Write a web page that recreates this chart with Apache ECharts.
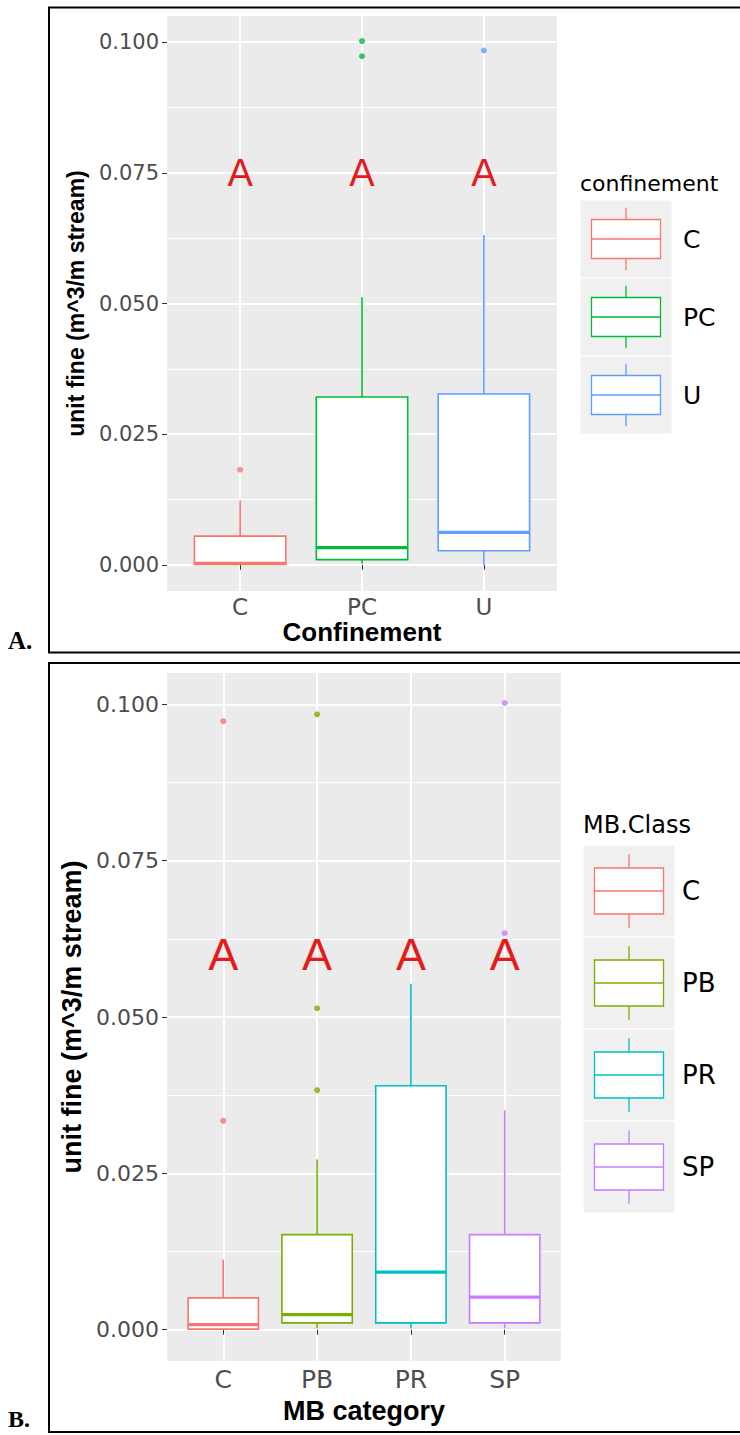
<!DOCTYPE html>
<html><head><meta charset="utf-8">
<script src="https://cdn.jsdelivr.net/npm/echarts@6/dist/echarts.min.js"></script>
<style>html,body{margin:0;padding:0;background:#fff}#c{width:740px;height:1435px}</style>
</head><body><div id="c"></div>
<script>
// ---------- Panel A data ----------
const catsA = ['C', 'PC', 'U'];
const colorsA = ['#F8766D', '#00BA38', '#619CFF'];
// [lower whisker, Q1, median, Q3, upper whisker]
const statsA = [
  [0.0000, 0.0001, 0.0003, 0.0055, 0.0123],
  [0.0002, 0.0010, 0.0033, 0.0321, 0.0512],
  [0.0000, 0.0027, 0.0062, 0.0327, 0.0631]
];
const outliersA = [[0.0182], [0.1002, 0.0973], [0.0984]];
const lettersA = ['A', 'A', 'A'];
const letterYA = 0.075;
const legendTitleA = 'confinement';
const xTitleA = 'Confinement';

// ---------- Panel B data ----------
const catsB = ['C', 'PB', 'PR', 'SP'];
const colorsB = ['#F8766D', '#7CAE00', '#00BFC4', '#C77CFF'];
const statsB = [
  [0.0000, 0.0001, 0.0008, 0.0051, 0.0112],
  [0.0002, 0.0011, 0.0024, 0.0152, 0.0272],
  [0.0002, 0.0011, 0.0092, 0.0390, 0.0553],
  [0.0002, 0.0011, 0.0052, 0.0152, 0.0351]
];
const outliersB = [[0.0973, 0.0334], [0.0984, 0.0514, 0.0383], [], [0.1002, 0.0634]];
const lettersB = ['A', 'A', 'A', 'A'];
const letterYB = 0.06;
const legendTitleB = 'MB.Class';
const xTitleB = 'MB category';

// ---------- shared ----------
const yTicks = [0, 0.025, 0.05, 0.075, 0.1];
const yTitle = 'unit fine (m^3/m stream)';

const SANS = '"DejaVu Sans", sans-serif';
const ARIAL = '"Liberation Sans", Arial, sans-serif';

const G = {
  A: { left: 167, top: 16, width: 390, height: 575 },
  B: { left: 167, top: 673, width: 394, height: 688 }
};

function xAxisCfg(gi, cats, P) {
  const pos = cats.map((c, i) => i + 1);
  return {
    type: 'value', gridIndex: gi, min: 0.4, max: cats.length + 0.6,
    minInterval: 1, maxInterval: 1,
    axisLine: { show: false },
    axisTick: { show: true, length: 5, customValues: pos, lineStyle: { color: '#333', width: 1 } },
    axisLabel: { customValues: pos, formatter: v => cats[Math.round(v) - 1] || '', color: '#4D4D4D',
      fontFamily: SANS, fontSize: P.xls, margin: P.xlm },
    splitLine: { show: true, showMinLine: true, showMaxLine: true, lineStyle: { color: '#fff', width: 2 } },
    name: P.xt, nameLocation: 'middle', nameGap: P.xng,
    nameTextStyle: { fontFamily: ARIAL, fontWeight: 'bold', fontSize: P.xts, color: '#000' }
  };
}
function yAxisCfg(gi, P) {
  return {
    type: 'value', gridIndex: gi, min: -0.005, max: 0.105,
    minInterval: 0.025, maxInterval: 0.025,
    axisLine: { show: false },
    axisTick: { show: true, length: 5, customValues: yTicks, lineStyle: { color: '#333', width: 1 } },
    axisLabel: { customValues: yTicks, formatter: v => v.toFixed(3), color: '#4D4D4D',
      fontFamily: SANS, fontSize: P.yls, margin: 8 },
    splitLine: { show: true, showMinLine: true, showMaxLine: true, lineStyle: { color: '#fff', width: 2 } },
    minorTick: { show: false, splitNumber: 2 },
    minorSplitLine: { show: true, lineStyle: { color: '#fff', width: 1 } },
    name: yTitle, nameLocation: 'middle', nameGap: P.yng,
    nameTextStyle: { fontFamily: ARIAL, fontWeight: 'bold', fontSize: P.yts, color: '#000' }
  };
}
function boxSeries(ai, stats, colors) {
  return {
    type: 'custom', xAxisIndex: ai, yAxisIndex: ai, z: 3,
    data: stats.map((s, i) => [i + 1].concat(s)),
    encode: { x: 0, y: [1, 2, 3, 4, 5] },
    renderItem: (params, api) => {
      const x = api.value(0);
      const lo = api.coord([x, api.value(1)]);
      const q1 = api.coord([x, api.value(2)]);
      const md = api.coord([x, api.value(3)]);
      const q3 = api.coord([x, api.value(4)]);
      const hi = api.coord([x, api.value(5)]);
      const hw = api.size([0.75, 0])[0] / 2;
      const c = colors[params.dataIndex];
      const cx = lo[0];
      return { type: 'group', children: [
        { type: 'line', shape: { x1: cx, y1: q3[1], x2: cx, y2: hi[1] }, style: { stroke: c, lineWidth: 1.6 } },
        { type: 'line', shape: { x1: cx, y1: q1[1], x2: cx, y2: lo[1] }, style: { stroke: c, lineWidth: 1.6 } },
        { type: 'rect', shape: { x: cx - hw, y: q3[1], width: 2 * hw, height: q1[1] - q3[1] }, style: { fill: '#fff', stroke: c, lineWidth: 1.6 } },
        { type: 'line', shape: { x1: cx - hw, y1: md[1], x2: cx + hw, y2: md[1] }, style: { stroke: c, lineWidth: 3.2 } }
      ] };
    }
  };
}
function outlierSeries(ai, outs, colors, size) {
  const data = [];
  outs.forEach((arr, i) => arr.forEach(v => data.push({ value: [i + 1, v], itemStyle: { color: colors[i] } })));
  return { type: 'scatter', xAxisIndex: ai, yAxisIndex: ai, z: 4, symbolSize: size, data: data };
}
function letterSeries(ai, letters, yv, fs) {
  return {
    type: 'custom', xAxisIndex: ai, yAxisIndex: ai, z: 5,
    data: letters.map((t, i) => [i + 1, yv]),
    renderItem: (params, api) => {
      const p = api.coord([api.value(0), api.value(1)]);
      return { type: 'text', x: p[0], y: p[1], style: { text: letters[params.dataIndex], fill: '#E41A1C',
        fontFamily: ARIAL, fontSize: fs, align: 'center', verticalAlign: 'middle' } };
    }
  };
}
function legendGraphic(title, cats, colors, L) {
  const els = [];
  els.push({ type: 'text', x: L.x, y: L.titleY, style: { text: title, fill: '#000', fontFamily: SANS,
    fontSize: L.tfs, verticalAlign: 'middle' } });
  cats.forEach((c, i) => {
    const top = L.keyTop + i * L.keyH;
    const w = L.keyW, h = L.keyH, col = colors[i];
    const cx = L.x + w / 2;
    els.push({ type: 'rect', shape: { x: L.x, y: top, width: w, height: h }, style: { fill: '#F0F0F0', stroke: '#fff', lineWidth: 1 } });
    els.push({ type: 'line', shape: { x1: cx, y1: top + 0.1 * h, x2: cx, y2: top + 0.25 * h }, style: { stroke: col, lineWidth: 1.3 } });
    els.push({ type: 'line', shape: { x1: cx, y1: top + 0.75 * h, x2: cx, y2: top + 0.9 * h }, style: { stroke: col, lineWidth: 1.3 } });
    els.push({ type: 'rect', shape: { x: L.x + 0.125 * w, y: top + 0.25 * h, width: 0.75 * w, height: 0.5 * h }, style: { fill: '#fff', stroke: col, lineWidth: 1.3 } });
    els.push({ type: 'line', shape: { x1: L.x + 0.125 * w, y1: top + 0.5 * h, x2: L.x + 0.875 * w, y2: top + 0.5 * h }, style: { stroke: col, lineWidth: 1.3 } });
    els.push({ type: 'text', x: L.labX, y: top + 0.5 * h, style: { text: c, fill: '#000', fontFamily: SANS,
      fontSize: L.lfs, verticalAlign: 'middle' } });
  });
  return els;
}

const PA = { xls: 23, xlm: 4, xt: xTitleA, xng: 28, xts: 26, yls: 21, yng: 75, yts: 23 };
const PB = { xls: 25, xlm: 6, xt: xTitleB, xng: 36, xts: 27, yls: 22, yng: 73, yts: 27 };

const graphics = [
  { type: 'rect', shape: { x: 49, y: 7.5, width: 720, height: 645 }, style: { fill: 'none', stroke: '#000', lineWidth: 2 }, z: 10 },
  { type: 'rect', shape: { x: 49, y: 663, width: 720, height: 769 }, style: { fill: 'none', stroke: '#000', lineWidth: 2 }, z: 10 },
  { type: 'text', x: 8, y: 640, style: { text: 'A.', fill: '#000', fontFamily: '"Liberation Serif", serif', fontWeight: 'bold', fontSize: 25, verticalAlign: 'middle' } },
  { type: 'text', x: 8, y: 1419, style: { text: 'B.', fill: '#000', fontFamily: '"Liberation Serif", serif', fontWeight: 'bold', fontSize: 24, verticalAlign: 'middle' } }
].concat(
  legendGraphic(legendTitleA, catsA, colorsA, { x: 580, titleY: 183, tfs: 22, keyTop: 200, keyW: 92, keyH: 78, labX: 683, lfs: 25 }),
  legendGraphic(legendTitleB, catsB, colorsB, { x: 583, titleY: 825, tfs: 24, keyTop: 845, keyW: 92, keyH: 92, labX: 682, lfs: 26 })
);

const chart = echarts.init(document.getElementById('c'), null, { renderer: 'svg' });
chart.setOption({
  animation: false,
  backgroundColor: '#fff',
  grid: [
    Object.assign({ show: true, backgroundColor: '#EBEBEB', borderWidth: 0 }, G.A),
    Object.assign({ show: true, backgroundColor: '#EBEBEB', borderWidth: 0 }, G.B)
  ],
  xAxis: [xAxisCfg(0, catsA, PA), xAxisCfg(1, catsB, PB)],
  yAxis: [yAxisCfg(0, PA), yAxisCfg(1, PB)],
  series: [
    boxSeries(0, statsA, colorsA), outlierSeries(0, outliersA, colorsA, 6), letterSeries(0, lettersA, letterYA, 38),
    boxSeries(1, statsB, colorsB), outlierSeries(1, outliersB, colorsB, 6), letterSeries(1, lettersB, letterYB, 45)
  ],
  graphic: graphics
});
</script></body></html>
